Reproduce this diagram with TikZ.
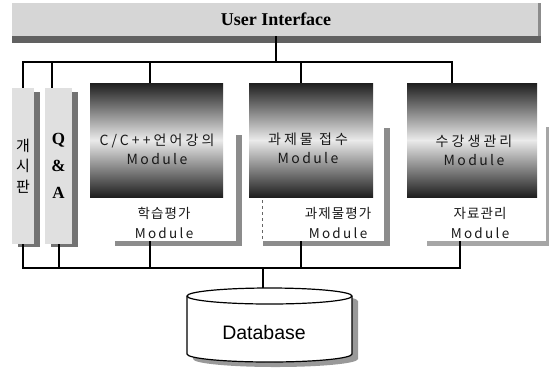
\documentclass[tikz,border=0pt]{standalone}
\usepackage{fontspec}
\setmainfont{Liberation Serif}
\newfontfamily\krfont[LetterSpace=22]{Noto Sans CJK KR}
\newfontfamily\krsubfont[LetterSpace=8]{Noto Sans CJK KR}
\newfontfamily\modfont[LetterSpace=17]{Noto Sans CJK KR}
\newfontfamily\sidefont{Noto Sans CJK KR}
\newfontfamily\dbfont{Liberation Sans}
\begin{document}
\begin{tikzpicture}[x=1pt,y=-1pt,
  wire/.style={draw=black,line width=1.1pt},
  barshadow/.style={fill=black!55},
  boxshadow/.style={fill=black!45},
  uibar/.style={fill=black!16,minimum width=528pt,minimum height=33pt,inner sep=0pt,
    font=\fontsize{18}{20}\selectfont\bfseries},
  sidebar/.style={fill=black!12,inner sep=0pt,minimum height=156pt,align=center},
  modframe/.style={fill=white,inner sep=0pt},
  modbox/.style={inner sep=0pt,minimum height=114pt,
    top color=black!88,bottom color=black!88,middle color=black!8},
  modtext/.style={align=center,inner sep=0pt,text=black!90},
  kr/.style={font=\krfont\fontsize{14}{19}\selectfont},
  krsub/.style={font=\krsubfont\fontsize{13.5}{20}\selectfont}
]
\useasboundingbox (0,0) rectangle (553,368);

% ---------- user interface bar ----------
\node[uibar] (ui) at (276,19.5) {User Interface};
\fill[black!62] (12,36) rectangle (541,43);
\fill[black!45] (538,3) rectangle (541,36);

% ---------- side bars ----------
\fill[barshadow] (18,92) rectangle (40,247);
\node[sidebar,minimum width=22pt,font=\sidefont\fontsize{15}{20.5}\selectfont] (board) at (23,166) {개\\시\\판};
\fill[barshadow] (51,92) rectangle (78,247);
\node[sidebar,minimum width=27pt,font=\fontsize{17}{27}\selectfont\bfseries] (qa) at (58.5,166) {Q\\\&\\A};

% ---------- module frames with their shadows ----------
\fill[boxshadow] (115,135) rectangle (242,246);
\node[modframe,minimum width=146pt,minimum height=158pt] (m1f) at (163,162) {};
\fill[boxshadow] (263,128) rectangle (390,246);
\node[modframe,minimum width=135pt,minimum height=158pt] (m2f) at (316.5,162) {};
\draw[black!60,dashed,line width=0.8pt] (m2f.north west |- 0,200) ++(14,0) -- ++(0,40);
\fill[black!35] (427,127) rectangle (549,246);
\node[modframe,minimum width=139pt,minimum height=158pt] (m3f) at (476.5,162) {};

% ---------- shaded module boxes ----------
\node[modbox,minimum width=133pt] (m1) at (156.5,140) {};
\node[modbox,minimum width=124pt] (m2) at (311,140) {};
\node[modbox,minimum width=130pt] (m3) at (472,140) {};

\node[modtext,kr] (m1a) at (157,149) {C/C++언어강의\\{\modfont Module}};
\node[modtext,kr] (m2a) at (308,148) {과제물 접수\\{\modfont Module}};
\node[modtext,kr] (m3a) at (474,150) {수강생관리\\{\modfont Module}};

\node[modtext,krsub] (m1b) at (164,223) {학습평가\\{\modfont Module}};
\node[modtext,krsub] (m2b) at (338,223) {과제물평가\\{\modfont Module}};
\node[modtext,krsub] (m3b) at (480,223) {자료관리\\{\modfont Module}};

% ---------- top bus ----------
\coordinate (tbusL) at (23,62);
\coordinate (tbusR) at (452,62);
\coordinate (tq) at (52,62);
\coordinate (t1) at (150,62);
\coordinate (t2) at (301,62);
\draw[wire] (ui.south) -- (ui.south |- tbusL);
\draw[wire] (board.north) -- (tbusL) -- (tbusR) -- (tbusR |- m3.north);
\draw[wire] (tq) -- (tq |- qa.north);
\draw[wire] (t1) -- (t1 |- m1.north);
\draw[wire] (t2) -- (t2 |- m2.north);

% ---------- database ----------
\node[inner sep=0pt,minimum width=165pt,minimum height=74pt] (db) at (269.5,325) {};
\begin{scope}[shift={(6,5)}]
  \fill[black!40] (187,296) -- (187,354) arc[start angle=180,end angle=360,x radius=82.5pt,y radius=8pt]
    -- (352,296) arc[start angle=0,end angle=180,x radius=82.5pt,y radius=8pt] -- cycle;
\end{scope}
\filldraw[fill=white,draw=black,line width=1.2pt] (187,296) -- (187,354) arc[start angle=180,end angle=360,x radius=82.5pt,y radius=8pt]
    -- (352,296) arc[start angle=0,end angle=180,x radius=82.5pt,y radius=8pt] -- cycle;
\draw[line width=1.2pt] (187,296) arc[start angle=180,end angle=360,x radius=82.5pt,y radius=8pt];
\node[font=\dbfont\fontsize{19.5}{22}\selectfont,inner sep=0pt] (dbt) at (264,333) {Database};

% ---------- bottom bus ----------
\coordinate (bbusL) at (23,268);
\coordinate (bbusR) at (460,268);
\coordinate (bq) at (59,268);
\coordinate (b1) at (150,268);
\coordinate (b2) at (301,268);
\coordinate (bdb) at (263,268);
\draw[wire] (board.south) -- (bbusL) -- (bbusR) -- (bbusR |- m3f.south);
\draw[wire] (bq) -- (bq |- qa.south);
\draw[wire] (b1) -- (b1 |- m1f.south);
\draw[wire] (b2) -- (b2 |- m2f.south);
\draw[wire] (bdb) -- (bdb |- db.north);
\end{tikzpicture}
\end{document}
